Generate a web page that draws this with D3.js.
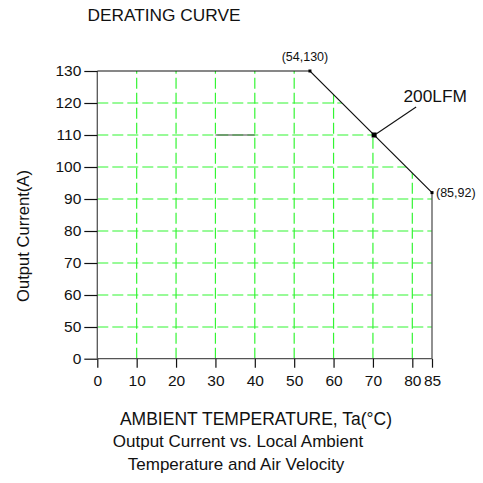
<!DOCTYPE html>
<html><head><meta charset="utf-8">
<script src="https://cdn.jsdelivr.net/npm/d3@7"></script>
<style>
html,body{margin:0;padding:0;background:#fff;}
text{font-family:"Liberation Sans",Arial,Helvetica,sans-serif;fill:#111;}
</style></head>
<body>
<svg id="chart" width="483" height="483"></svg>
<script>
// ---- data ----
const xTicks = [0,10,20,30,40,50,60,70,80,85];
const yTicks = [0,50,60,70,80,90,100,110,120,130];
const xGrid = [10,20,30,40,50,60,70,80];
const yGrid = [50,60,70,80,90,100,110,120];
const curveTemp = [0,54,85];
const curveCurrent = [130,130,92];
const markTemp = [54,70.3,85];
const markCurrent = [130,110,92];
const markSize = [3,5,3];
const pointLabels = ["(54,130)","","(85,92)"];
const seriesName = "200LFM";
const strayTemp = [30,40];
const strayCurrent = [110,110];

const svg = d3.select("#chart");
const x = d3.scaleLinear().domain([0,85]).range([97.3,432]);
const y = d3.scaleLinear().domain([0,50,130]).range([358.7,327,71]);

// clip path: area under the curve
const clipPts = [[0,0]].concat(curveTemp.map((t,i)=>[t,curveCurrent[i]])).concat([[85,0]]);
svg.append("defs").append("clipPath").attr("id","under")
  .append("polygon")
  .attr("points", clipPts.map(p=>x(p[0])+","+y(p[1])).join(" "));

const grid = svg.append("g").attr("clip-path","url(#under)")
  .attr("stroke","#33f533").attr("stroke-width",1.2).attr("stroke-dasharray","11,4");
grid.selectAll(".vg").data(xGrid).join("line")
  .attr("x1",d=>x(d)).attr("x2",d=>x(d)).attr("y1",y(0)).attr("y2",y(130));
grid.selectAll(".hg").data(yGrid).join("line")
  .attr("x1",x(0)).attr("x2",x(85)).attr("y1",d=>y(d)).attr("y2",d=>y(d));

// stray segment
svg.append("line")
  .attr("x1",x(strayTemp[0])).attr("x2",x(strayTemp[1]))
  .attr("y1",y(strayCurrent[0])).attr("y2",y(strayCurrent[1]))
  .attr("stroke","#444").attr("stroke-width",1);

// axes
const yAxis = d3.axisLeft(y).tickValues(yTicks).tickSize(13).tickPadding(3).tickFormat(d3.format("d"));
const gy = svg.append("g").attr("transform",`translate(${x(0)},0)`).call(yAxis);
const xAxis = d3.axisBottom(x).tickValues(xTicks).tickSize(9).tickPadding(7).tickFormat(d3.format("d"));
const gx = svg.append("g").attr("transform",`translate(0,${y(0)})`).call(xAxis);
[gx,gy].forEach(g=>{
  g.select(".domain").attr("stroke","#555").attr("stroke-width",1.3);
  g.selectAll(".tick line").attr("stroke","#111").attr("stroke-width",1.2);
  g.selectAll(".tick text").attr("font-size",15.5).attr("fill","#111")
    .attr("font-family","'Liberation Sans',Arial,sans-serif");
});
gy.select(".domain").attr("d",`M0,${y(0)}V${y(130)}`);
gx.select(".domain").attr("d",`M${x(0)},0H${x(85)}`);

// right edge
svg.append("line").attr("x1",x(85)).attr("x2",x(85)).attr("y1",y(0)).attr("y2",y(92))
  .attr("stroke","#555").attr("stroke-width",1.3);

// curve
const line = d3.line().x((d,i)=>x(curveTemp[i])).y((d,i)=>y(curveCurrent[i]));
svg.append("path").datum(curveTemp).attr("d",line)
  .attr("fill","none").attr("stroke","#111").attr("stroke-width",1.2);

// markers
svg.selectAll(".mk").data(markTemp).join("rect")
  .attr("x",(d,i)=>x(d)-markSize[i]/2).attr("y",(d,i)=>y(markCurrent[i])-markSize[i]/2)
  .attr("width",(d,i)=>markSize[i]).attr("height",(d,i)=>markSize[i]).attr("fill","#000");

// point labels
svg.append("text").attr("x",x(markTemp[0])-5).attr("y",y(markCurrent[0])-10.5)
  .attr("text-anchor","middle").attr("font-size",12.5).text(pointLabels[0]);
svg.append("text").attr("x",x(markTemp[2])+4).attr("y",y(markCurrent[2])+4.5)
  .attr("text-anchor","start").attr("font-size",12.5).text(pointLabels[2]);

// series label with leader
svg.append("line").attr("x1",x(markTemp[1])+2).attr("y1",y(markCurrent[1])-1)
  .attr("x2",x(markTemp[1])+42).attr("y2",y(markCurrent[1])-28)
  .attr("stroke","#111").attr("stroke-width",1.1);
svg.append("text").attr("x",403.5).attr("y",102.3).attr("font-size",17.3).text(seriesName);

// titles
svg.append("text").attr("x",164).attr("y",21).attr("text-anchor","middle").attr("font-size",17.3).text("DERATING CURVE");
svg.append("text").attr("transform","translate(29,236) rotate(-90)").attr("text-anchor","middle")
  .attr("font-size",16.6).text("Output Current(A)");
svg.append("text").attr("x",256).attr("y",425).attr("text-anchor","middle").attr("font-size",17.5).text("AMBIENT TEMPERATURE, Ta(°C)");
svg.append("text").attr("x",238).attr("y",447).attr("text-anchor","middle").attr("font-size",17).text("Output Current vs. Local Ambient");
svg.append("text").attr("x",236).attr("y",470).attr("text-anchor","middle").attr("font-size",17).text("Temperature and Air Velocity");
</script>
</body></html>
